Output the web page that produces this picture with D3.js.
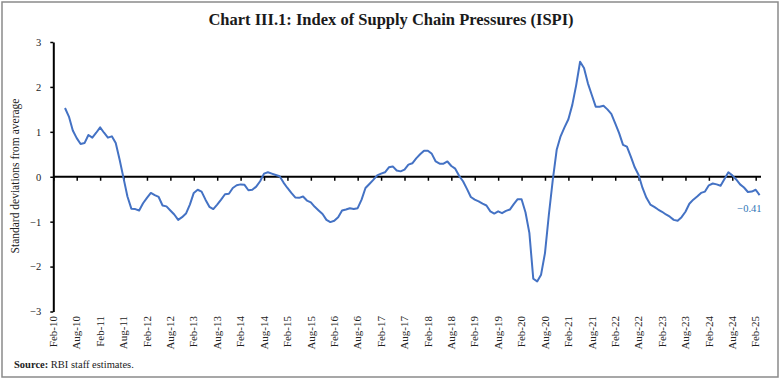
<!DOCTYPE html>
<html lang="en">
<head>
<meta charset="UTF-8">
<title>Index of Supply Chain Pressures</title>
<script src="https://cdn.jsdelivr.net/npm/d3@7"></script>
<style>
    body { margin: 0; background: #fff; }
    text { font-family: "Liberation Serif", "DejaVu Serif", serif; }
</style>
</head>
<body>
<div id="chart"></div>
<script>
    // first category on the axis is Feb-10, series starts May-10 and ends Mar-25
    var axisStart = new Date(2010, 1, 1);
    var seriesStart = new Date(2010, 4, 1);
    var axisMonths = 182; // Feb-10 .. Mar-25

    var ispi = [
        1.53, 1.34, 1.03, 0.86, 0.73, 0.75, 0.93, 0.87, 0.98,
        1.10, 0.98, 0.87, 0.90, 0.75, 0.38, -0.03, -0.44, -0.71, -0.72, -0.75, -0.59,
        -0.47, -0.36, -0.41, -0.45, -0.64, -0.66, -0.75, -0.84, -0.96, -0.90, -0.82, -0.62,
        -0.36, -0.29, -0.33, -0.51, -0.67, -0.72, -0.62, -0.51, -0.39, -0.38, -0.25, -0.19,
        -0.17, -0.18, -0.30, -0.29, -0.22, -0.10, 0.07, 0.10, 0.07, 0.04, 0.01, -0.13,
        -0.25, -0.36, -0.46, -0.47, -0.44, -0.53, -0.57, -0.67, -0.75, -0.83, -0.96, -1.01,
        -0.98, -0.90, -0.75, -0.73, -0.70, -0.72, -0.70, -0.51, -0.25, -0.16, -0.07, 0.03,
        0.07, 0.10, 0.21, 0.23, 0.14, 0.12, 0.16, 0.27, 0.30, 0.41, 0.50, 0.58,
        0.58, 0.51, 0.34, 0.29, 0.29, 0.34, 0.24, 0.18, 0.02, -0.10, -0.27, -0.45,
        -0.51, -0.55, -0.60, -0.64, -0.77, -0.82, -0.77, -0.81, -0.76, -0.73, -0.61, -0.50,
        -0.50, -0.79, -1.25, -2.27, -2.33, -2.18, -1.70, -0.84, -0.07, 0.60, 0.90, 1.10,
        1.28, 1.60, 2.04, 2.56, 2.42, 2.08, 1.82, 1.56, 1.56, 1.58, 1.50, 1.40,
        1.19, 0.97, 0.71, 0.67, 0.45, 0.21, 0.04, -0.25, -0.47, -0.62, -0.67, -0.73,
        -0.78, -0.84, -0.89, -0.96, -0.98, -0.90, -0.78, -0.60, -0.51, -0.44, -0.36, -0.33,
        -0.19, -0.15, -0.17, -0.20, -0.05, 0.10, 0.03, -0.06, -0.17, -0.24, -0.34, -0.33,
        -0.29, -0.41
    ];

    var tickLabels = ["Feb-10","Aug-10","Feb-11","Aug-11","Feb-12","Aug-12","Feb-13","Aug-13",
        "Feb-14","Aug-14","Feb-15","Aug-15","Feb-16","Aug-16","Feb-17","Aug-17","Feb-18","Aug-18",
        "Feb-19","Aug-19","Feb-20","Aug-20","Feb-21","Aug-21","Feb-22","Aug-22","Feb-23","Aug-23",
        "Feb-24","Aug-24","Feb-25"];
    var yTicks = [-3, -2, -1, 0, 1, 2, 3];

    var width = 782, height = 381;
    var svg = d3.select("#chart").append("svg")
            .attr("width", width)
            .attr("height", height);

    // frame
    svg.append("rect")
            .attr("x", 2).attr("y", 2)
            .attr("width", 776).attr("height", 375)
            .attr("fill", "none")
            .attr("stroke", "#8a8a8a")
            .attr("stroke-width", 1.5);

    svg.append("text")
            .attr("x", 391).attr("y", 25)
            .attr("text-anchor", "middle")
            .style("font-size", "16.5px")
            .style("font-weight", "bold")
            .attr("fill", "#1a1a1a")
            .text("Chart III.1: Index of Supply Chain Pressures (ISPI)");

    var monthIndex = function(d){
        return d3.timeMonth.count(axisStart, d);
    };
    var x = d3.scaleLinear().domain([0, axisMonths - 1]).range([53.3, 759.6]);
    var y = d3.scaleLinear().domain([-3, 3]).range([311.5, 42]);

    var points = ispi.map(function(v, i){
        return {date: d3.timeMonth.offset(seriesStart, i), value: v};
    });

    // y axis
    var yAxis = svg.append("g")
            .attr("transform", "translate(53.3,0)")
            .call(d3.axisLeft(y).tickValues(yTicks).tickSize(3).tickSizeOuter(0).tickPadding(9)
                .tickFormat(d3.format("d")));
    yAxis.select(".domain").attr("stroke", "#000").attr("stroke-width", 2);
    yAxis.selectAll(".tick line").attr("stroke", "#000").attr("stroke-width", 1.5);
    yAxis.selectAll(".tick text")
            .style("font-family", "Liberation Serif")
            .style("font-size", "10.5px")
            .attr("fill", "#222");

    svg.append("text")
            .attr("transform", "translate(19,176) rotate(-90)")
            .attr("text-anchor", "middle")
            .style("font-size", "11.5px")
            .attr("fill", "#222")
            .text("Standard deviations from average");

    // zero line with half-year ticks
    var tickIdx = tickLabels.map(function(d, i){ return i * 6; });
    var xAxis = svg.append("g")
            .attr("transform", "translate(0," + y(0) + ")")
            .call(d3.axisBottom(x).tickValues(tickIdx).tickSize(4).tickSizeOuter(0).tickFormat(""));
    xAxis.select(".domain")
            .attr("d", "M53.3,0H761")
            .attr("stroke", "#000").attr("stroke-width", 2);
    xAxis.selectAll(".tick line").attr("stroke", "#000").attr("stroke-width", 1.5);

    // rotated labels along the bottom
    svg.append("g").selectAll("text")
            .data(tickLabels)
            .enter()
            .append("text")
            .attr("transform", function(d, i){
                return "translate(" + (x(i * 6) + 3.7) + ",316) rotate(-90)";
            })
            .attr("text-anchor", "end")
            .style("font-size", "11px")
            .attr("fill", "#222")
            .text(function(d){ return d; });

    var line = d3.line()
            .x(function(d){ return x(monthIndex(d.date)); })
            .y(function(d){ return y(d.value); });

    svg.append("path")
            .datum(points)
            .attr("d", line)
            .attr("fill", "none")
            .attr("stroke", "#4472c4")
            .attr("stroke-width", 2)
            .attr("stroke-linejoin", "round");

    var last = points[points.length - 1];
    svg.append("text")
            .attr("x", x(monthIndex(last.date)) + 2)
            .attr("y", y(last.value) + 17)
            .attr("text-anchor", "end")
            .style("font-size", "10.5px")
            .attr("fill", "#2e75b6")
            .text(d3.format(".2f")(last.value));

    var src = svg.append("text")
            .attr("x", 14).attr("y", 368)
            .style("font-size", "10.5px")
            .attr("fill", "#222");
    src.append("tspan").style("font-weight", "bold").text("Source:");
    src.append("tspan").text(" RBI staff estimates.");
</script>
</body>
</html>
